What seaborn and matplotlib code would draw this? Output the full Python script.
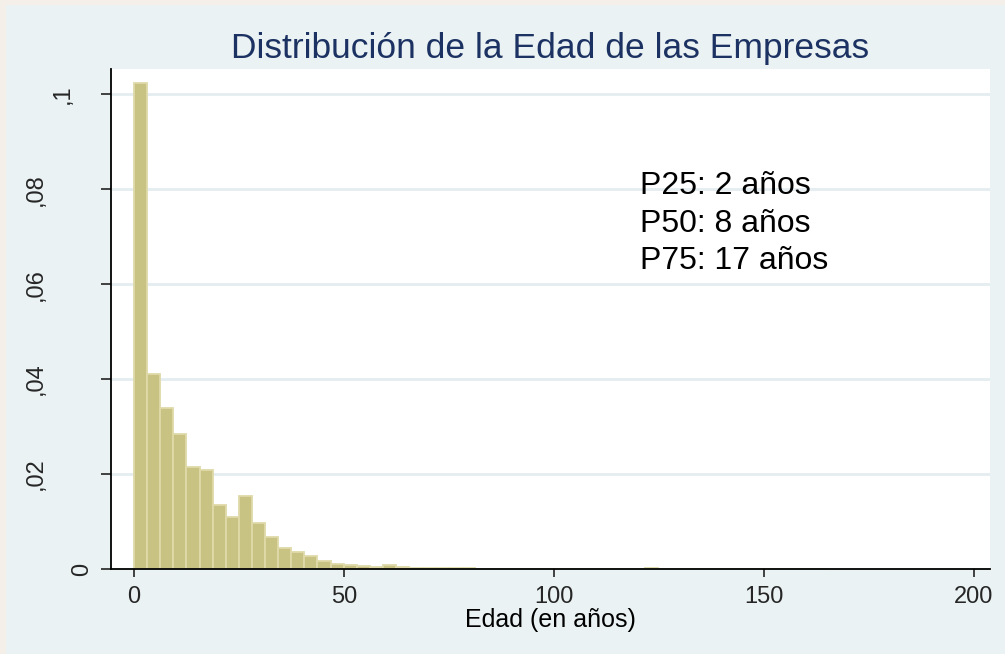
"""
Histograma de la edad de las empresas (estilo Stata s2color) con seaborn.
"""

import numpy as np
import pandas as pd
import matplotlib
matplotlib.use("Agg")
import matplotlib.pyplot as plt
import matplotlib.transforms as mtransforms
from matplotlib.patches import Rectangle
import seaborn as sns


# =====================================================
# 1. DATOS
# =====================================================

edad_min = 0.0
ancho_bin = 3.12          # anos por barra
densidad = [
    0.1024, 0.0410, 0.0340, 0.0284, 0.0214, 0.0208, 0.0134, 0.0109,
    0.0153, 0.0097, 0.0067, 0.0044, 0.0036, 0.0027, 0.0017, 0.0010,
    0.0008, 0.0006, 0.0004, 0.0008, 0.0005, 0.0003, 0.0002, 0.0002,
    0.00015, 0.00015, 0.0001, 0.0001, 0.0001, 0.0001, 0.0001, 0.0001,
    0.0001, 0.0001, 0.0001, 0.0001, 0.0001, 0.0001, 0.0001, 0.0003,
    0.0001, 0.0, 0.0001, 0.0001, 0.0, 0.0001, 0.0001, 0.0001,
    0.0001, 0.0001, 0.0, 0.0, 0.0001,
]

percentiles = ["P25", "P50", "P75"]
valores_pct = [2, 8, 17]

ticks_x = [0, 50, 100, 150, 200]
ticks_y = [0, 0.02, 0.04, 0.06, 0.08, 0.1]
etiquetas_y = ["0", ",02", ",04", ",06", ",08", ",1"]

titulo = "Distribución de la Edad de las Empresas"
etiqueta_x = "Edad (en años)"

# Tabla para seaborn: centro de cada barra con su densidad como peso
bordes = edad_min + ancho_bin * np.arange(len(densidad) + 1)
df = pd.DataFrame({
    "edad": (bordes[:-1] + bordes[1:]) / 2,
    "densidad": densidad,
})


# =====================================================
# 2. ESTILO
# =====================================================

sns.set_theme(style="white")
plt.rcParams["font.family"] = ["Liberation Sans", "DejaVu Sans"]

fondo_exterior = "#f4efe8"
fondo_panel = "#eaf2f3"
color_barra = "#c9c383"
borde_barra = "#dfdaa8"
color_titulo = "#1c3262"
color_grid = "#e4edf0"

fig = plt.figure(figsize=(10.05, 6.54), dpi=100, facecolor=fondo_exterior)
fig.patches.append(Rectangle((6 / 1005, 0), 1 - 6 / 1005, 1 - 5 / 654,
                             transform=fig.transFigure, facecolor=fondo_panel,
                             edgecolor="none", zorder=-10))

ax = fig.add_axes([111 / 1005, 85 / 654, 879 / 1005, 500 / 654])
ax.set_facecolor("white")


# =====================================================
# 3. HISTOGRAMA
# =====================================================

sns.histplot(data=df, x="edad", weights="densidad", bins=list(bordes),
             stat="count", color=color_barra, alpha=1,
             edgecolor=borde_barra, linewidth=1.3, ax=ax, zorder=2)

ax.set_xlim(-5.48, 203.8)
ax.set_ylim(0, 0.1053)

ax.set_xticks(ticks_x)
ax.set_xticklabels([str(t) for t in ticks_x])
ax.set_yticks(ticks_y)
ax.set_yticklabels(etiquetas_y, rotation=90, va="center", ha="center")

ax.yaxis.grid(True, color=color_grid, linewidth=2, zorder=0)
ax.xaxis.grid(False)
ax.set_axisbelow(True)

for lado in ["top", "right"]:
    ax.spines[lado].set_visible(False)
for lado in ["left", "bottom"]:
    ax.spines[lado].set_color("black")
    ax.spines[lado].set_linewidth(1.3)
    ax.spines[lado].set_zorder(3)

ax.tick_params(axis="x", direction="out", length=6, width=1.3,
               color="#333333", labelsize=17, pad=6, bottom=True)
ax.tick_params(axis="y", direction="out", length=7.5, width=1.3,
               color="#333333", labelsize=17, pad=0, left=True)

# Stata desplaza las etiquetas rotadas segun su largo
desplazamiento = {"0": -28.5, ",1": -48, ",02": -75, ",04": -75,
                  ",06": -75, ",08": -75}
for etiqueta in ax.get_yticklabels():
    dx = desplazamiento.get(etiqueta.get_text(), -75) + 10
    etiqueta.set_transform(etiqueta.get_transform() +
                           mtransforms.ScaledTranslation(dx / 100, 0,
                                                         fig.dpi_scale_trans))

ax.set_xlabel(etiqueta_x, fontsize=18, labelpad=0, color="black")
ax.set_ylabel("")
ax.set_title(titulo, fontsize=25.5, color=color_titulo, pad=8)

# Percentiles
texto = "\n".join(f"{p}: {v} años" for p, v in zip(percentiles, valores_pct))
ax.text(120.5, 0.0838, texto, fontsize=23, color="black",
        ha="left", va="top", linespacing=1.33, zorder=4)

plt.savefig("out.png", dpi=100, facecolor=fig.get_facecolor())
